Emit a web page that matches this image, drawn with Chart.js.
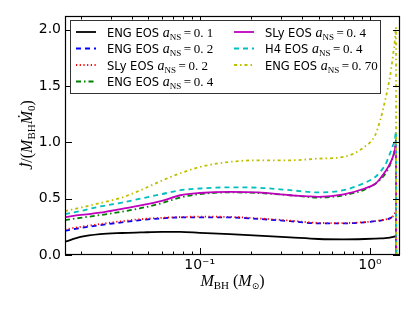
<!DOCTYPE html>
<html>
<head>
<meta charset="utf-8">
<script src="https://cdn.jsdelivr.net/npm/chart.js@4/dist/chart.umd.min.js"></script>
<style>
  html, body { margin: 0; padding: 0; background: #fff; }
</style>
</head>
<body>
<canvas id="myChart" width="415" height="312"></canvas>
<script>
// black hole mass (M_sun) sample points
var masses = [0.0162, 0.02, 0.026, 0.035, 0.045, 0.06, 0.077, 0.1, 0.15, 0.22, 0.34, 0.5, 0.7, 0.93, 1.07, 1.15, 1.23, 1.31, 1.37, 1.40, 1.42, 1.425];

// Jdot / (M_BH Mdot_0) for each run
var engA01 = [0.118, 0.16, 0.185, 0.195, 0.20, 0.205, 0.205, 0.197, 0.186, 0.172, 0.156, 0.142, 0.139, 0.142, 0.145, 0.147, 0.150, 0.155, 0.16, 0.165, 0.17, 0];
var engA02 = [0.215, 0.24, 0.265, 0.29, 0.31, 0.325, 0.333, 0.333, 0.333, 0.32, 0.30, 0.28, 0.28, 0.29, 0.30, 0.305, 0.315, 0.325, 0.345, 0.36, 0.38, 0];
var slyA02 = [0.228, 0.25, 0.275, 0.30, 0.318, 0.33, 0.337, 0.34, 0.338, 0.325, 0.305, 0.285, 0.283, 0.292, 0.30, 0.307, 0.315, 0.325, 0.345, 0.36, 0.38, 0];
var engA04 = [0.31, 0.33, 0.354, 0.385, 0.415, 0.46, 0.51, 0.54, 0.555, 0.55, 0.53, 0.51, 0.53, 0.58, 0.63, 0.67, 0.72, 0.80, 0.88, 0.95, 1.02, 0];
var slyA04 = [0.335, 0.355, 0.375, 0.41, 0.44, 0.48, 0.53, 0.55, 0.56, 0.555, 0.53, 0.516, 0.537, 0.59, 0.63, 0.68, 0.74, 0.81, 0.88, 0.93, 1.0, 0];
var h4A04 = [0.363, 0.39, 0.43, 0.465, 0.50, 0.54, 0.575, 0.59, 0.60, 0.597, 0.575, 0.555, 0.575, 0.64, 0.69, 0.74, 0.80, 0.90, 0.98, 1.02, 1.1, 0];
var engA07 = [0.39, 0.42, 0.46, 0.51, 0.575, 0.66, 0.725, 0.78, 0.826, 0.84, 0.84, 0.855, 0.87, 0.96, 1.06, 1.20, 1.38, 1.58, 1.79, 1.90, 2.02, 0];

var eosNames = ['ENG', 'ENG', 'SLy', 'ENG', 'SLy', 'H4', 'ENG'];
var spins = ['0.1', '0.2', '0.2', '0.4', '0.4', '0.4', '0.70'];

var yTicks = [0, 0.5, 1.0, 1.5, 2.0];
var yTickLabels = ['0.0', '0.5', '1.0', '1.5', '2.0'];
var xTicks = [0.02, 0.03, 0.04, 0.05, 0.06, 0.07, 0.08, 0.09, 0.1, 0.2, 0.3, 0.4, 0.5, 0.6, 0.7, 0.8, 0.9, 1];
var xMajor = [0.1, 1];
var xMajorLabels = ['10\u207B\u00B9', '10\u2070'];

function pts(arr) {
    return masses.map(function (m, i) { return { x: m, y: arr[i] }; });
}

var styles = [
    { c: '#000000', d: [] },
    { c: '#0000ff', d: [5, 4] },
    { c: '#ff0000', d: [1.2, 2.5] },
    { c: '#008000', d: [5, 3, 1.5, 3] },
    { c: '#bf00bf', d: [] },
    { c: '#00bfbf', d: [5, 4] },
    { c: '#bfbf00', d: [3, 3, 1.5, 3] }
];
var series = [engA01, engA02, slyA02, engA04, slyA04, h4A04, engA07];

var datasets = series.map(function (s, i) {
    return {
        label: eosNames[i] + ' EOS a_NS=' + spins[i],
        data: pts(s),
        borderColor: styles[i].c,
        borderDash: styles[i].d,
        borderWidth: 1.8,
        pointRadius: 0,
        fill: false,
        cubicInterpolationMode: 'monotone',
        order: 10 - i
    };
});

var SERIF = '"Liberation Serif", "DejaVu Serif", serif';
var SANS = '"DejaVu Sans", sans-serif';

// draw a row of text parts: [text, font, dy]
function drawRich(ctx, parts, x, y, align) {
    var w = 0;
    parts.forEach(function (p) { ctx.font = p[1]; w += ctx.measureText(p[0]).width; });
    var cx = align === 'center' ? x - w / 2 : x;
    ctx.textAlign = 'left';
    ctx.textBaseline = 'alphabetic';
    parts.forEach(function (p) {
        ctx.font = p[1];
        ctx.fillText(p[0], cx, y + (p[2] || 0));
        cx += ctx.measureText(p[0]).width;
    });
}

var decorPlugin = {
    id: 'decor',
    afterDraw: function (chart) {
        var ctx = chart.ctx;
        var a = chart.chartArea;
        var xs = chart.scales.x, ys = chart.scales.y;
        ctx.save();
        ctx.fillStyle = '#000';
        ctx.strokeStyle = '#000';

        // inward ticks on all four sides
        ctx.lineWidth = 1;
        xTicks.forEach(function (v) {
            var px = Math.round(xs.getPixelForValue(v)) + 0.5;
            var len = xMajor.indexOf(v) >= 0 ? 7 : 3.5;
            ctx.beginPath();
            ctx.moveTo(px, a.bottom); ctx.lineTo(px, a.bottom - len);
            ctx.moveTo(px, a.top); ctx.lineTo(px, a.top + len);
            ctx.stroke();
        });
        yTicks.forEach(function (v) {
            var py = Math.round(ys.getPixelForValue(v)) + 0.5;
            ctx.beginPath();
            ctx.moveTo(a.left, py); ctx.lineTo(a.left + 7, py);
            ctx.moveTo(a.right, py); ctx.lineTo(a.right - 7, py);
            ctx.stroke();
        });

        // frame
        ctx.lineWidth = 1.2;
        ctx.strokeRect(a.left + 0.5, a.top + 0.5, a.right - a.left - 1, a.bottom - a.top - 1);

        // x title
        drawRich(ctx, [
            ['M', 'italic 16px ' + SERIF, 0],
            ['BH', '11px ' + SERIF, 3],
            [' (', '16px ' + SERIF, 0],
            ['M', 'italic 16px ' + SERIF, 0],
            ['\u2299', '9px ' + SANS, 3],
            [')', '16px ' + SERIF, 0]
        ], (a.left + a.right) / 2, 286, 'center');

        // y title
        ctx.save();
        ctx.translate(32, 135);
        ctx.rotate(-Math.PI / 2);
        drawRich(ctx, [
            ['J\u0307', 'italic 16px ' + SERIF, 0],
            ['/(', '16px ' + SERIF, 0],
            ['M', 'italic 16px ' + SERIF, 0],
            ['BH', '11px ' + SERIF, 3],
            ['M\u0307', 'italic 16px ' + SERIF, 0],
            ['0', '11px ' + SERIF, 3],
            [')', '16px ' + SERIF, 0]
        ], 0, 0, 'center');
        ctx.restore();

        // legend
        var lx = 70, ly = 20, lw = 310, lh = 73;
        ctx.fillStyle = '#fff';
        ctx.fillRect(lx, ly, lw, lh);
        ctx.strokeStyle = '#333';
        ctx.lineWidth = 1;
        ctx.strokeRect(lx + 0.5, ly + 0.5, lw, lh);
        var rowY = [32, 48.5, 65, 81.5];
        datasets.forEach(function (ds, i) {
            var col = i < 4 ? 0 : 1;
            var row = i < 4 ? i : i - 4;
            var sx = col === 0 ? 76 : 234;
            var tx = col === 0 ? 107 : 265;
            var cy = rowY[row];
            ctx.strokeStyle = ds.borderColor;
            ctx.lineWidth = ds.borderWidth;
            ctx.setLineDash(ds.borderDash);
            ctx.beginPath();
            ctx.moveTo(sx, cy); ctx.lineTo(sx + 20, cy);
            ctx.stroke();
            ctx.setLineDash([]);
            ctx.fillStyle = '#000';
            drawRich(ctx, [
                [eosNames[i] + ' EOS ', '11.5px ' + SANS, 0],
                ['a', 'italic 14px ' + SERIF, 0],
                ['NS', '9px ' + SERIF, 3],
                ['\u2009=\u2009' + spins[i].replace('.', '. '), '13px ' + SERIF, 0]
            ], tx, cy + 4.5, 'left');
        });
        ctx.restore();
    }
};

var ctx1 = document.getElementById('myChart').getContext('2d');
var myChart = new Chart(ctx1, {
    type: 'line',
    data: { datasets: datasets },
    options: {
        responsive: false,
        animation: false,
        devicePixelRatio: 1,
        layout: { padding: { left: 0, right: 15, top: 16, bottom: 0 } },
        plugins: { legend: { display: false }, tooltip: { enabled: false } },
        scales: {
            x: {
                type: 'logarithmic',
                min: 0.0162,
                max: 1.5,
                grid: { display: false, drawTicks: false },
                border: { display: false },
                afterBuildTicks: function (scale) {
                    scale.ticks = xTicks.map(function (v) { return { value: v }; });
                },
                afterFit: function (scale) { scale.height = 57; },
                ticks: {
                    autoSkip: false,
                    maxRotation: 0,
                    padding: 2,
                    color: '#000',
                    font: { family: 'DejaVu Sans', size: 14 },
                    callback: function (v) {
                        var k = xMajor.indexOf(v);
                        return k >= 0 ? xMajorLabels[k] : '';
                    }
                }
            },
            y: {
                min: 0,
                max: 2.12,
                grid: { display: false, drawTicks: false },
                border: { display: false },
                afterBuildTicks: function (scale) {
                    scale.ticks = yTicks.map(function (v) { return { value: v }; });
                },
                afterFit: function (scale) { scale.width = 65; },
                ticks: {
                    padding: 4,
                    color: '#000',
                    font: { family: 'DejaVu Sans', size: 14 },
                    callback: function (v) {
                        var k = yTicks.indexOf(v);
                        return k >= 0 ? yTickLabels[k] : '';
                    }
                }
            }
        }
    },
    plugins: [decorPlugin]
});
</script>
</body>
</html>
